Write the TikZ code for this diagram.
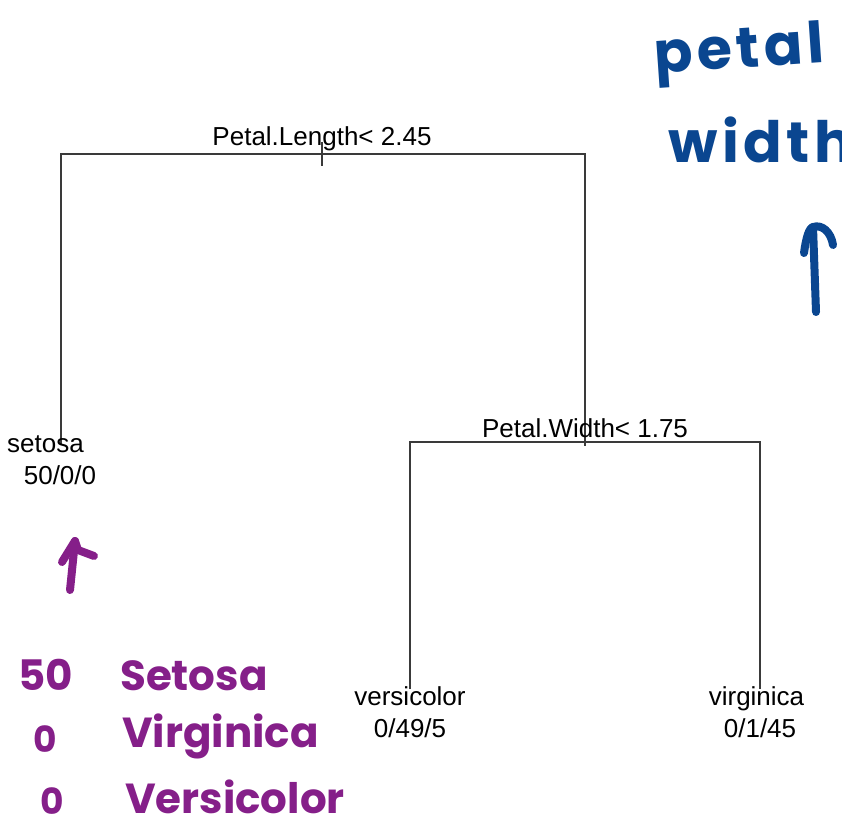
\documentclass[tikz,border=0pt]{standalone}
\usepackage{fontspec}
\setmainfont{Liberation Sans}
\newfontfamily\handfont{Poppins}
\newfontfamily\handspaced{Poppins}[LetterSpace=8]
\usetikzlibrary{calc}
\definecolor{inkblue}{HTML}{0A4690}
\definecolor{inkpurple}{HTML}{851F89}
\definecolor{branch}{HTML}{3A3A3A}
\tikzset{
  branchline/.style={draw=branch, line width=1.6pt},
  splitlabel/.style={anchor=base, inner sep=0pt, font=\fontsize{26}{30}\selectfont},
  leaflabel/.style={anchor=base, inner sep=0pt, font=\fontsize{26}{30}\selectfont},
  bluenote/.style={anchor=base west, inner sep=0pt, text=inkblue,
    font=\handspaced\bfseries\fontsize{57}{60}\selectfont},
  purplenote/.style={anchor=base west, inner sep=0pt, text=inkpurple,
    font=\handfont\bfseries\fontsize{42}{46}\selectfont},
  blueink/.style={draw=inkblue, line width=8pt, line cap=round, line join=round},
  purpleink/.style={draw=inkpurple, line width=8pt, line cap=round, line join=round},
}
\begin{document}
\begin{tikzpicture}[x=1pt, y=-1pt]
  \useasboundingbox (0,0) rectangle (842,826);

  % branch points of the tree
  \coordinate (root)     at (322,154);
  \coordinate (setosaPt) at (61,445);
  \coordinate (splitW)   at (585,442);
  \coordinate (versPt)   at (410,689);
  \coordinate (virgPt)   at (760,689);

  % branches
  \draw[branchline] (setosaPt) |- (root) -| (splitW);
  \draw[branchline] ([yshift=12pt]root) -- ([yshift=-12pt]root);
  \draw[branchline] (versPt) |- (splitW) -| (virgPt);
  \draw[branchline] ([yshift=6pt]splitW) -- ([yshift=-4pt]splitW);

  % split labels
  \node[splitlabel] (lenLabel) at (322,146) {Petal.Length< 2.45};
  \node[splitlabel] (widLabel) at (585,437) {Petal.Width< 1.75};

  % leaf labels
  \node[leaflabel] (setosaName)  at (45.5,452) {setosa};
  \node[leaflabel] (setosaCount) at (60,484)   {50/0/0};
  \node[leaflabel] (versName)    at (410,705)  {versicolor};
  \node[leaflabel] (versCount)   at (410,737)  {0/49/5};
  \node[leaflabel] (virgName)    at (756.5,705){virginica};
  \node[leaflabel] (virgCount)   at (760,737)  {0/1/45};

  % blue note: petal width
  \node[bluenote, rotate=4] (petalNote) at (655,74) {petal};
  \node[bluenote] (widthNote) at (668,163) {width};
  \coordinate (bArrowTail) at (816,312);
  \coordinate (bArrowTip)  at (813,227);
  \draw[blueink] (bArrowTail) -- (bArrowTip);
  \draw[blueink] (804,253) .. controls (806,238) and (809,228) .. (bArrowTip)
                 .. controls (822,224) and (831,232) .. (833,245);

  % purple note: class counts
  \coordinate (pArrowTail) at (70,590);
  \coordinate (pArrowTip)  at (75,541);
  \draw[purpleink] (pArrowTail) -- (pArrowTip);
  \draw[purpleink] (62,562) -- (pArrowTip) -- (78,550) -- (94,556);

  \node[purplenote] (n50)   at (18,690)  {50};
  \node[purplenote] (setN)  at (120,690) {Setosa};
  \node[purplenote, font=\handfont\bfseries\fontsize{36}{40}\selectfont] (n0a) at (33,752) {0};
  \node[purplenote] (virN)  at (122,747) {Virginica};
  \node[purplenote, font=\handfont\bfseries\fontsize{36}{40}\selectfont] (n0b) at (40,814) {0};
  \node[purplenote] (verN)  at (125,813) {Versicolor};
\end{tikzpicture}
\end{document}
